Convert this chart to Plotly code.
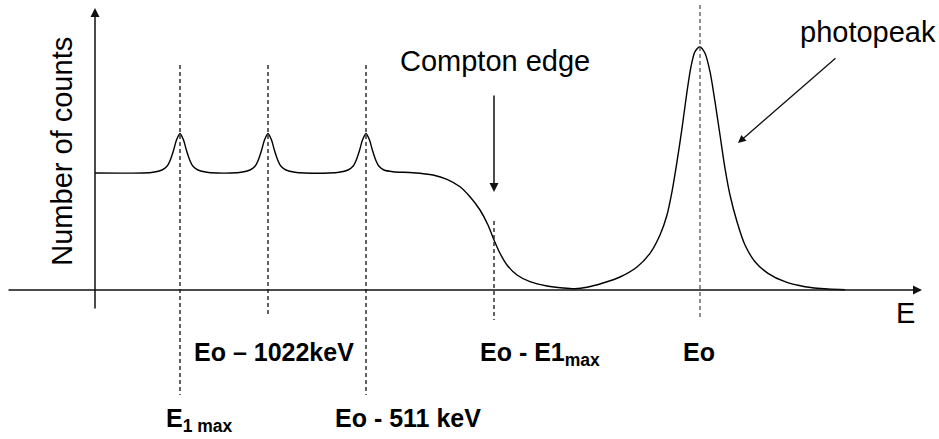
import plotly.graph_objects as go

# Schematic gamma-ray pulse-height spectrum (arbitrary units)
energy = [
    0, 48, 58, 67, 72, 75, 78.5, 81.5, 85, 88.5, 91.5, 95, 98, 103, 112, 122,
    136, 146, 155, 160, 163, 166.5, 169.5, 173, 176.5, 179.5, 183, 186, 191, 200, 210,
    234, 244, 253, 258, 261, 264.5, 267.5, 271, 274.5, 277.5, 281, 284, 289, 298,
    318, 338, 352, 365, 375, 385, 393, 399, 405, 412, 422, 435, 452, 468, 480,
    492, 508, 525, 542, 555, 565, 572, 577, 582, 587, 592, 596, 600, 605,
    610, 615, 620, 625, 630, 635, 642, 650, 660, 673, 690, 710, 733, 750,
]
counts = [
    117, 117, 117.7, 120, 123.7, 129.3, 139.5, 150, 156.5, 150, 139.5, 129.3, 123.7, 120, 117.7, 117,
    117, 117.7, 120, 123.7, 129.3, 139.5, 150, 156.5, 150, 139.5, 129.3, 123.7, 120, 117.7, 117,
    117, 117.7, 120, 123.7, 129.3, 139.5, 150, 156.5, 150, 139.5, 129.3, 123.7, 120, 118.3,
    117.3, 115, 110.7, 103.3, 93.3, 80, 65, 50, 36.7, 25, 15, 8.3, 4, 2, 1.3,
    2.8, 7, 13, 23, 36.7, 55, 75, 98.3, 128.3, 161.7, 198.3, 223.3, 238.3, 243,
    236.7, 218.3, 188.3, 155, 121.7, 95, 68.3, 45, 28.3, 16.7, 8.3, 3.3, 1, 0.3,
]

# Characteristic energies marked with dashed guide lines
marker_energy = [85, 173, 271, 399, 605]
marker_top = [225, 225, 225, 69, 285]
marker_bottom = [-105, -27, -105, -30, -28]
marker_color = ["#111111", "#111111", "#111111", "#111111", "#555555"]

marker_labels = [
    "E<sub>1 max</sub>",
    "Eo \u2013 1022keV",
    "Eo - 511 keV",
    "Eo - E1<sub>max</sub>",
    "Eo",
]
label_x = [104, 179, 313, 445, 604]
label_y = [-129.8, -62, -128, -63.8, -62]

FONT = "Arial, Liberation Sans, sans-serif"

fig = go.Figure()

fig.add_trace(go.Scatter(
    x=energy, y=counts, mode="lines",
    line=dict(color="black", width=1.4, shape="spline", smoothing=0.8),
    hoverinfo="skip",
))

for xe, y0, y1, col in zip(marker_energy, marker_top, marker_bottom, marker_color):
    fig.add_shape(type="line", x0=xe, x1=xe, y0=y0, y1=y1, xref="x", yref="y",
                  line=dict(color=col, width=1.3, dash="4px,3px"))

annotations = []

# axes drawn as arrows
def arrow(tip, tail, width=1.5):
    return dict(x=tip[0], y=tip[1], ax=tail[0], ay=tail[1], xref="x", yref="y",
                axref="x", ayref="y", text="", showarrow=True, arrowhead=2,
                arrowsize=1.2, arrowwidth=width, arrowcolor="#111111",
                standoff=0, startstandoff=0)

annotations.append(arrow((827, 0), (-88, 0)))
annotations.append(arrow((0, 282), (0, -20)))
annotations.append(arrow((399, 98), (399, 196)))
annotations.append(arrow((643, 147), (742, 233), width=1.3))

for txt, xl, yl in zip(marker_labels, label_x, label_y):
    annotations.append(dict(x=xl, y=yl, xref="x", yref="y", text="<b>" + txt + "</b>",
                            showarrow=False, xanchor="center", yanchor="middle",
                            font=dict(family=FONT, size=25, color="black")))

annotations.append(dict(x=-33, y=138.3, xref="x", yref="y", text="Number of counts",
                        textangle=-90, showarrow=False, xanchor="center", yanchor="middle",
                        font=dict(family=FONT, size=29, color="black")))
annotations.append(dict(x=399.5, y=229, xref="x", yref="y", text="Compton edge",
                        showarrow=False, xanchor="center", yanchor="middle",
                        font=dict(family=FONT, size=29, color="black")))
annotations.append(dict(x=772.5, y=258.4, xref="x", yref="y", text="photopeak",
                        showarrow=False, xanchor="center", yanchor="middle",
                        font=dict(family=FONT, size=29, color="black")))
annotations.append(dict(x=810, y=-22.5, xref="x", yref="y", text="E",
                        showarrow=False, xanchor="center", yanchor="middle",
                        font=dict(family=FONT, size=29, color="black")))

fig.update_layout(
    width=939, height=439,
    margin=dict(l=0, r=0, t=0, b=0),
    paper_bgcolor="white", plot_bgcolor="white",
    showlegend=False,
    xaxis=dict(range=[-95, 844], visible=False, fixedrange=True),
    yaxis=dict(range=[-149, 290], visible=False, fixedrange=True),
    annotations=annotations,
)

fig.write_html("out.html", config={"displayModeBar": False})
